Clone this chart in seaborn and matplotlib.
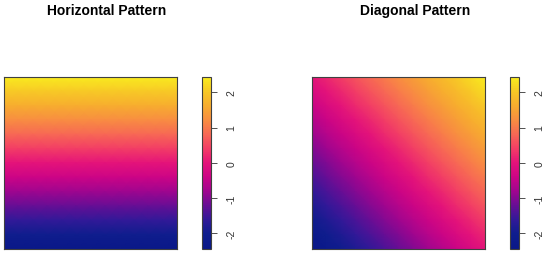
import numpy as np
import seaborn as sns
import matplotlib
matplotlib.use('Agg')
from matplotlib import pyplot as plt
from matplotlib.colors import LinearSegmentedColormap

plt.rcParams['font.family'] = ['Liberation Sans', 'DejaVu Sans']
plt.rcParams['axes.unicode_minus'] = False

# values on the grid lines
row_levels = [2.43, 2.02, 1.62, 1.21, 0.81, 0.40, 0.0,
              -0.40, -0.81, -1.21, -1.62, -2.03, -2.44]   # top -> bottom
col_levels = [-2.44, -2.03, -1.62, -1.21, -0.81, -0.40, 0.0,
              0.40, 0.81, 1.21, 1.62, 2.02, 2.43]         # left -> right
titles = ['Horizontal Pattern', 'Diagonal Pattern']
cbar_ticks = [-2, -1, 0, 1, 2]
zmin, zmax = -2.44, 2.43

# plasma-like palette sampled from the colour key
pal_values = [-2.44, -2.0, -1.6, -1.2, -0.8, -0.4, 0.0, 0.4, 0.8, 1.2, 1.6, 2.0, 2.43]
pal_colors = ['#0a1888', '#0f1d8e', '#331998', '#680e95', '#a0058f', '#cc0486',
              '#e4137a', '#f23c66', '#f76755', '#f88c42', '#f7ab30', '#f7c626', '#f9ec1f']
pos = [(v - zmin) / (zmax - zmin) for v in pal_values]
plasma = LinearSegmentedColormap.from_list('plasma_r', list(zip(pos, pal_colors)))

rows = np.array(row_levels)[:, None]
cols = np.array(col_levels)[None, :]
horizontal = np.repeat(rows, len(col_levels), axis=1)
diagonal = (rows + cols) / 2

W, H = 550, 255
fig = plt.figure(figsize=(5.5, 2.55), dpi=100)


def px(x0, y0, x1, y1):
    return [x0 / W, 1 - y1 / H, (x1 - x0) / W, (y1 - y0) / H]


panels = [
    (titles[0], horizontal, (4, 177), (202, 211), 107),
    (titles[1], diagonal, (312, 485), (510, 519), 415),
]

for title, grid, (hx0, hx1), (cx0, cx1), tx in panels:
    ax = fig.add_axes(px(hx0, 78, hx1, 250))
    cax = fig.add_axes(px(cx0, 78, cx1, 250))
    cells = (grid[:-1, :-1] + grid[1:, :-1] + grid[:-1, 1:] + grid[1:, 1:]) / 4
    sns.heatmap(cells, ax=ax, cbar_ax=cax, cmap=plasma, vmin=zmin, vmax=zmax,
                xticklabels=False, yticklabels=False)
    # smooth the cells: colour the grid corners and blend between them
    mesh = ax.collections[0]
    mesh._shading = 'gouraud'
    mesh.set_array(grid)

    for sp in ax.spines.values():
        sp.set_visible(True)
        sp.set_linewidth(0.8)
        sp.set_edgecolor('#404040')

    cb = mesh.colorbar
    cb.outline.set_linewidth(0.8)
    cb.outline.set_edgecolor('#404040')
    cb.set_ticks(cbar_ticks)
    cb.set_ticklabels([str(t) for t in cbar_ticks])
    cax.tick_params(axis='y', right=True, labelright=True, length=4, width=0.6,
                    pad=7, labelsize=7.5, labelrotation=90, colors='#333333')
    for lab in cax.get_yticklabels():
        lab.set_va('center')

    fig.text(tx / W, 1 - 15 / H, title, ha='center', va='baseline',
             fontsize=10, fontweight='bold')

fig.savefig('out.png', dpi=100)
